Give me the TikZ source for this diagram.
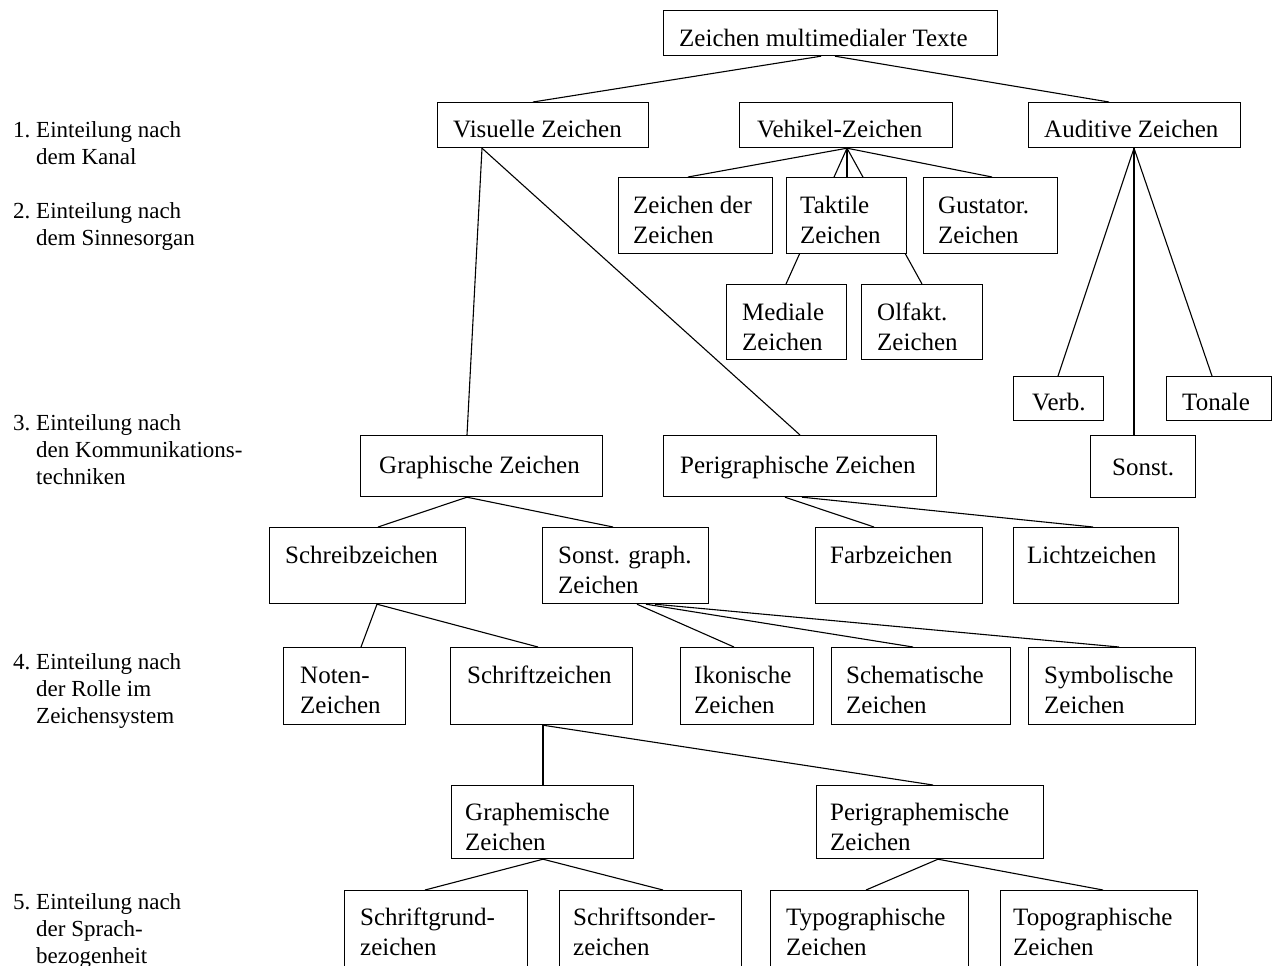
\documentclass[tikz,border=0pt]{standalone}
\usepackage{fontspec}
\setmainfont{Liberation Serif}
\usetikzlibrary{backgrounds}
% left-aligned stack of lines, baseline on the first line
\newcommand\mlines[1]{\begin{tabular}[t]{@{}l@{}}#1\end{tabular}}
% box: name, x1, y1, x2, y2, text offset x, baseline offset y, text
\newcommand\tbox[8]{%
  \node[box, minimum width={(#4)-(#2)}, minimum height={(#5)-(#3)}] (#1) at (#2,#3) {};
  \node[txt] (#1-text) at ([shift={(#6,#7)}]#1.north west) {\mlines{#8}};}
% level caption: name, baseline y, number, text
\newcommand\level[4]{%
  \node[lvl] (#1-num) at (13,#2) {#3};
  \node[lvl] (#1) at (36,#2) {\begin{tabular}[t]{@{}l@{}}#4\end{tabular}};}
\begin{document}
\begin{tikzpicture}[x=1pt,y=-1pt,
  box/.style={draw, fill=white, line width=1.2pt, inner sep=0pt, anchor=north west},
  txt/.style={anchor=base west, inner sep=0pt, font=\fontsize{25}{30}\selectfont},
  lvl/.style={anchor=base west, inner sep=0pt, font=\fontsize{23}{27}\selectfont},
  conn/.style={line width=1.1pt}]
\useasboundingbox (0,0) rectangle (1274,966);
\clip (0,0) rectangle (1274,966);

% level captions
\level{l1}{137}{1.}{Einteilung nach\\dem Kanal}
\level{l2}{218}{2.}{Einteilung nach\\dem Sinnesorgan}
\level{l3}{430}{3.}{Einteilung nach\\den Kommunikations-\\techniken}
\level{l4}{669}{4.}{Einteilung nach\\der Rolle im\\Zeichensystem}
\level{l5}{909}{5.}{Einteilung nach\\der Sprach-\\bezogenheit}

% boxes
\tbox{top}{663}{10}{997}{55}{16}{37}{Zeichen multimedialer Texte}
\tbox{vis}{437}{102}{648}{147}{16}{35}{Visuelle Zeichen}
\tbox{veh}{739}{102}{952}{147}{18}{35}{Vehikel-Zeichen}
\tbox{aud}{1028}{102}{1240}{147}{16}{35}{Auditive Zeichen}
\tbox{zdz}{618}{177}{772}{253}{15}{36}{Zeichen der\\Zeichen}
\tbox{tak}{786}{177}{906}{253}{14}{36}{Taktile\\Zeichen}
\tbox{gus}{923}{177}{1057}{253}{15}{36}{Gustator.\\Zeichen}
\tbox{med}{726}{284}{846}{359}{16}{36}{Mediale\\Zeichen}
\tbox{olf}{861}{284}{982}{359}{16}{36}{Olfakt.\\Zeichen}
\tbox{verb}{1013}{376}{1103}{420}{19}{34}{Verb.}
\tbox{ton}{1166}{376}{1271}{420}{16}{34}{Tonale}
\tbox{son}{1090}{435}{1195}{497}{22}{40}{Sonst.}
\tbox{gra}{360}{435}{602}{496}{19}{38}{Graphische Zeichen}
\tbox{per}{663}{435}{936}{496}{17}{38}{Perigraphische Zeichen}
\tbox{schr}{269}{527}{465}{603}{16}{36}{Schreibzeichen}
\tbox{sog}{542}{527}{708}{603}{16}{36}{Sonst. graph.\\Zeichen}
\tbox{farb}{815}{527}{982}{603}{15}{36}{Farbzeichen}
\tbox{licht}{1013}{527}{1178}{603}{14}{36}{Lichtzeichen}
\tbox{noten}{283}{647}{405}{724}{17}{36}{Noten-\\Zeichen}
\tbox{schz}{450}{647}{632}{724}{17}{36}{Schriftzeichen}
\tbox{iko}{680}{647}{813}{724}{14}{36}{Ikonische\\Zeichen}
\tbox{schem}{831}{647}{1010}{724}{15}{36}{Schematische\\Zeichen}
\tbox{sym}{1028}{647}{1195}{724}{16}{36}{Symbolische\\Zeichen}
\tbox{grm}{451}{785}{633}{858}{14}{35}{Graphemische\\Zeichen}
\tbox{pgm}{816}{785}{1043}{858}{14}{35}{Perigraphemische\\Zeichen}
\tbox{sgr}{344}{890}{527}{990}{16}{35}{Schriftgrund-\\zeichen}
\tbox{sso}{559}{890}{741}{990}{14}{35}{Schriftsonder-\\zeichen}
\tbox{typ}{770}{890}{968}{990}{16}{35}{Typographische\\Zeichen}
\tbox{tpg}{1000}{890}{1197}{990}{13}{35}{Topographische\\Zeichen}

% white sheet and connectors, beneath the boxes
\begin{pgfonlayer}{background}
\fill[white] (0,0) rectangle (1274,966);
\draw[conn] ([xshift=158]top.south west) -- ([xshift=96]vis.north west);
\draw[conn] ([xshift=172]top.south west) -- ([xshift=81]aud.north west);
\draw[conn] ([xshift=108]veh.south west) -- ([xshift=70]zdz.north west);
\draw[conn] ([xshift=108]veh.south west) -- ([xshift=61]tak.north west);
\draw[conn] ([xshift=108]veh.south west) -- ([xshift=69]gus.north west);
\draw[conn] ([xshift=108]veh.south west) -- ([xshift=60]med.north west);
\draw[conn] ([xshift=108]veh.south west) -- ([xshift=61]olf.north west);
\draw[conn] ([xshift=106]aud.south west) -- ([xshift=45]verb.north west);
\draw[conn] ([xshift=106]aud.south west) -- ([xshift=44]son.north west);
\draw[conn] ([xshift=106]aud.south west) -- ([xshift=46]ton.north west);
\draw[conn] ([xshift=45]vis.south west) -- ([xshift=107]gra.north west);
\draw[conn] ([xshift=45]vis.south west) -- ([xshift=137]per.north west);
\draw[conn] ([xshift=107]gra.south west) -- ([xshift=109]schr.north west);
\draw[conn] ([xshift=107]gra.south west) -- ([xshift=71]sog.north west);
\draw[conn] ([xshift=122]per.south west) -- ([xshift=59]farb.north west);
\draw[conn] ([xshift=139]per.south west) -- ([xshift=80]licht.north west);
\draw[conn] ([xshift=108]schr.south west) -- ([xshift=78]noten.north west);
\draw[conn] ([xshift=108]schr.south west) -- ([xshift=88]schz.north west);
\draw[conn] ([xshift=95]sog.south west) -- ([xshift=54]iko.north west);
\draw[conn] ([xshift=104]sog.south west) -- ([xshift=82]schem.north west);
\draw[conn] ([xshift=113]sog.south west) -- ([xshift=91]sym.north west);
\draw[conn] ([xshift=93]schz.south west) -- ([xshift=92]grm.north west);
\draw[conn] ([xshift=93]schz.south west) -- ([xshift=117]pgm.north west);
\draw[conn] ([xshift=92]grm.south west) -- ([xshift=81]sgr.north west);
\draw[conn] ([xshift=92]grm.south west) -- ([xshift=104]sso.north west);
\draw[conn] ([xshift=122]pgm.south west) -- ([xshift=96]typ.north west);
\draw[conn] ([xshift=122]pgm.south west) -- ([xshift=103]tpg.north west);
\end{pgfonlayer}
\end{tikzpicture}
\end{document}
